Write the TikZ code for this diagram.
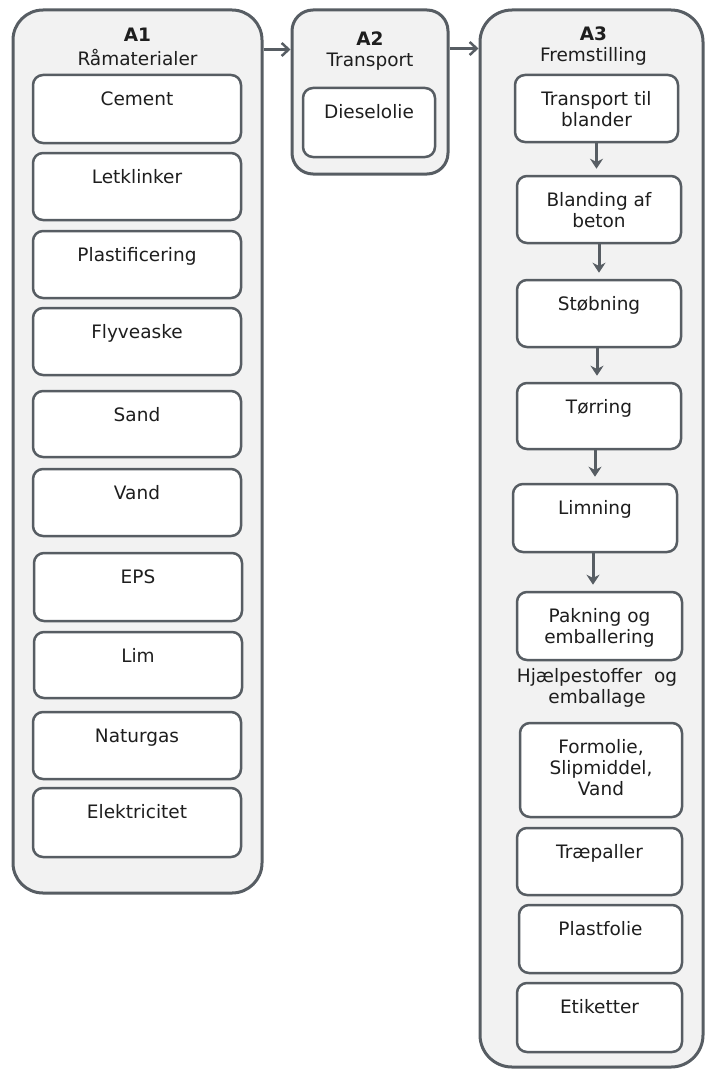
\documentclass[tikz,border=0pt]{standalone}
\usepackage{fontspec}
\setmainfont{DejaVu Sans}
\usetikzlibrary{arrows.meta,calc}
\definecolor{ln}{HTML}{575D63}
\definecolor{bg}{HTML}{F2F2F2}
\definecolor{tx}{HTML}{1E1E1E}
\newcommand\mybox[7][10]{%
  \node[box, rounded corners=#1, minimum width={#5-#3}, minimum height={#6-#4},
    label={[txt]north:#7}] (#2) at ({(#3+#5)/2},{(#4+#6)/2}) {};}
\begin{document}
\begin{tikzpicture}[x=1pt,y=-1pt,
  box/.style={draw=ln, line width=2.5pt, fill=white, inner sep=0pt},
  outer/.style={draw=ln, line width=3pt, fill=bg, inner sep=0pt},
  txt/.style={anchor=north, inner sep=0pt, outer sep=0pt, yshift=-17.5pt, align=center,
    text=tx, font=\fontsize{18.5}{21}\selectfont},
  harrow/.style={draw=ln, line width=2.5pt, -{Straight Barb[length=7pt,width=13pt,line width=2.5pt]}},
  varrow/.style={draw=ln, line width=3pt, -{Stealth[length=10pt,width=13pt]}, shorten >=6pt}]
\useasboundingbox (0,0) rectangle (707,1070);
% outer groups
\node[outer, rounded corners=30, minimum width=249, minimum height=883,
  label={[txt, yshift=-1pt]north:\strut\textbf{A1}\\Råmaterialer}] (a1) at (137.5,451.5) {};
\node[outer, rounded corners=21, minimum width=156, minimum height=164,
  label={[txt, yshift=-5pt]north:\strut\textbf{A2}\\Transport}] (a2) at (370,92) {};
\node[outer, rounded corners=32, minimum width=223, minimum height=1057,
  label={[txt, xshift=2pt, yshift=0pt]north:\strut\textbf{A3}\\Fremstilling}] (a3) at (591.5,538.5) {};
% A1 items
\mybox{cem}{33}{75}{241}{143}{\strut Cement}
\mybox{let}{33}{153}{241}{220}{\strut Letklinker}
\mybox{pla}{33}{231}{241}{298}{\strut Plastificering}
\mybox{fly}{33}{308}{241}{375}{\strut Flyveaske}
\mybox{san}{33}{391}{241}{457}{\strut Sand}
\mybox{van}{33}{469}{241}{536}{\strut Vand}
\mybox{eps}{34}{553}{242}{621}{\strut EPS}
\mybox{lim}{34}{632}{242}{698}{\strut Lim}
\mybox{nat}{33}{712}{241}{779}{\strut Naturgas}
\mybox{ele}{33}{788}{241}{857}{\strut Elektricitet}
% A2 item
\mybox{die}{303}{88}{435}{157}{\strut Dieselolie}
% A3 items
\mybox{tra}{515}{75}{678}{142}{\strut Transport til\\blander}
\mybox{bla}{517}{176}{681}{243}{\strut Blanding af\\beton}
\mybox{sto}{517}{280}{681}{347}{\strut Støbning}
\mybox{tor}{517}{383}{681}{449}{\strut Tørring}
\mybox{limn}{513}{484}{677}{552}{\strut Limning}
\mybox{pak}{517}{592}{682}{660}{\strut Pakning og\\emballering}
\node[txt] (hj) at (597,650) {\strut Hjælpestoffer\ \ og\\emballage};
\mybox{for}{520}{723}{682}{817}{\strut Formolie,\\Slipmiddel,\\Vand}
\mybox{trp}{517}{828}{682}{895}{\strut Træpaller}
\mybox{pfo}{519}{905}{682}{973}{\strut Plastfolie}
\mybox{eti}{517}{983}{682}{1052}{\strut Etiketter}
% connectors
\draw[harrow] ([yshift=-41pt]a1.north east) -- ([yshift=-41pt]a2.north west);
\draw[harrow] ([yshift=-40pt]a2.north east) -- ([yshift=-40pt]a3.north west);
\draw[varrow] (tra.south) -- (tra.south |- bla.north);
\draw[varrow] (bla.south) -- (bla.south |- sto.north);
\draw[varrow] ([xshift=-2pt]sto.south) -- ([xshift=-2pt]sto.south |- tor.north);
\draw[varrow] ([xshift=-4pt]tor.south) -- ([xshift=-4pt]tor.south |- limn.north);
\draw[varrow] ([xshift=-2pt]limn.south) -- ([xshift=-2pt]limn.south |- pak.north);
\end{tikzpicture}
\end{document}
